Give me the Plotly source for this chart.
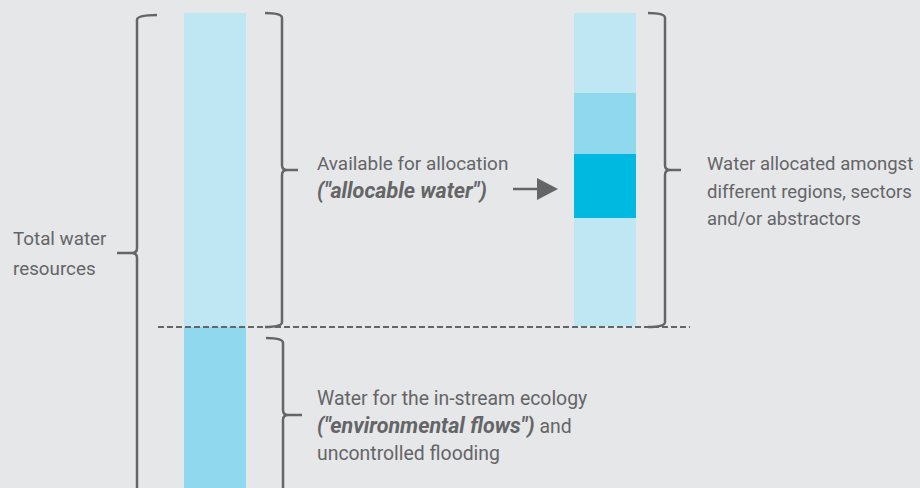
import plotly.graph_objects as go

# ---------------- data ----------------
# Left column: total water resources split (heights in diagram units, top to bottom)
left_segments = ["Allocable water", "Environmental flows"]
left_values = [314, 180]
# Right column: allocable water split amongst users (top to bottom)
right_segments = ["User A", "User B", "User C", "User D"]
right_values = [80, 61, 64, 108]

BOLD = '<span style="font-size:21.5px"><b><i>{}</i></b></span>'
label_total = ["Total water", "resources"]
label_alloc = ["Available for allocation", BOLD.format("(\"allocable water\")")]
label_shared = ["Water allocated amongst", "different regions, sectors", "and/or abstractors"]
label_env = ["Water for the in-stream ecology", BOLD.format("(\"environmental flows\")") + " and",
             "uncontrolled flooding"]

# ---------------- styles ----------------
BG = "#e6e7e9"
INK = "#646567"
left_colors = ["#bfe6f3", "#90d8ee"]
right_colors = ["#bfe6f3", "#90d8ee", "#00b9e1", "#bfe6f3"]
FONT = "Roboto, sans-serif"
TOP = 13
BAR_W = 62
LEFT_X = 215
RIGHT_X = 605

fig = go.Figure()

def add_stack(xc, names, values, colors):
    base = TOP
    for n, v, c in zip(names, values, colors):
        fig.add_trace(go.Bar(x=[xc], y=[v], base=[base], width=BAR_W, name=n,
                             marker=dict(color=c, line=dict(width=0)),
                             showlegend=False, hoverinfo="name"))
        base += v

add_stack(LEFT_X, left_segments, left_values, left_colors)
add_stack(RIGHT_X, right_segments, right_values, right_colors)

def brace(xl, yt, yb, tip_x, tip_y, hx):
    s = 1 if tip_x > xl else -1
    r = 5
    return (f"M{hx},{yt} Q{xl},{yt} {xl},{yt + r} "
            f"L{xl},{tip_y - r} Q{xl},{tip_y} {xl + s * r},{tip_y} L{tip_x},{tip_y} "
            f"M{xl + s * r},{tip_y} Q{xl},{tip_y} {xl},{tip_y + r} "
            f"L{xl},{yb - r} Q{xl},{yb} {hx},{yb}")

shapes = []
line_style = dict(color=INK, width=2.5)
shapes.append(dict(type="path", path=brace(137, 15, 540, 117, 253, 157),
                   xref="x", yref="y", line=line_style, layer="above"))
shapes.append(dict(type="path", path=brace(282, 13, 327, 298, 170, 265),
                   xref="x", yref="y", line=line_style, layer="above"))
shapes.append(dict(type="path", path=brace(665, 13, 327, 681, 170, 648),
                   xref="x", yref="y", line=line_style, layer="above"))
shapes.append(dict(type="path", path=brace(283, 338, 540, 302, 415, 266),
                   xref="x", yref="y", line=line_style, layer="above"))
# dashed divider
shapes.append(dict(type="line", x0=158, x1=690, y0=327, y1=327, xref="x", yref="y",
                   line=dict(color=INK, width=2, dash="6px,3px"), layer="above"))
# arrow
shapes.append(dict(type="line", x0=513, x1=540, y0=189, y1=189, xref="x", yref="y",
                   line=dict(color=INK, width=2.5), layer="above"))
shapes.append(dict(type="path", path="M537,178 L558,189 L537,200 Z", xref="x", yref="y",
                   fillcolor=INK, line=dict(color=INK, width=0), layer="above"))

annos = []
def txt(x, y0, lines, pitch=27.5, size=19.2):
    for i, t in enumerate(lines):
        annos.append(dict(x=x, y=y0 + i * pitch, xref="x", yref="y", text=t, showarrow=False,
                          xanchor="left", yanchor="middle", align="left",
                          font=dict(family=FONT, size=size, color=INK)))
txt(11, 239, label_total, pitch=30, size=18.8)
txt(315, 163, label_alloc, size=18.9)
txt(705, 164, label_shared, size=18.5)
txt(315, 398, label_env, size=19.4)

fig.update_layout(
    width=920, height=488,
    margin=dict(l=0, r=0, t=0, b=0),
    paper_bgcolor=BG, plot_bgcolor=BG,
    barmode="overlay",
    xaxis=dict(range=[0, 920], visible=False, fixedrange=True),
    yaxis=dict(range=[488, 0], visible=False, fixedrange=True),
    shapes=shapes, annotations=annos,
    showlegend=False,
)

fig.write_html("out.html", config={"displayModeBar": False},
               post_script="document.body.style.margin='0px';document.body.style.overflow='hidden';")
